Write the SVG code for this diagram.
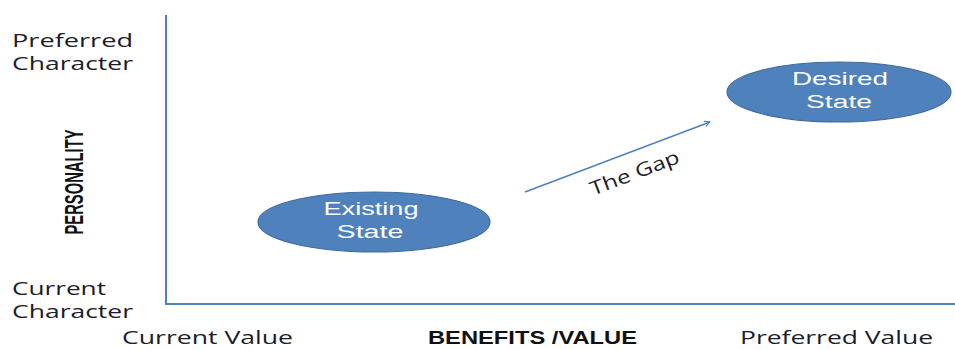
<svg xmlns="http://www.w3.org/2000/svg" width="955" height="350" viewBox="0 0 955 350">
<defs>
<style>
.lbl{font-family:"Open Sans","Liberation Sans",sans-serif;font-size:18px;fill:#1c1c2c}
.bold{font-family:"Liberation Sans",sans-serif;font-weight:bold;font-size:18px;fill:#111}
.node ellipse{fill:#4f81bd;stroke:#3f6b9f;stroke-width:1.2}
.node text{font-family:"Liberation Sans",sans-serif;font-size:19px;fill:#ffffff;text-anchor:middle}
.axis{stroke:#4f81bd;stroke-width:2;fill:none}
.conn{stroke:#4f81bd;stroke-width:1.6;fill:none}
</style>
<marker id="ah" viewBox="0 0 10 10" refX="9" refY="5" markerWidth="7" markerHeight="7" orient="auto" markerUnits="userSpaceOnUse">
<path d="M1,1 L9,5 L1,9" fill="none" stroke="#4f81bd" stroke-width="1.5"/>
</marker>
</defs>
<rect width="955" height="350" fill="#ffffff"/>
<g id="axes">
<polyline class="axis" points="166,15 166,304 955,304"/>
</g>
<g id="axis-labels">
<text class="lbl" x="12" y="47" textLength="121" lengthAdjust="spacingAndGlyphs">Preferred</text>
<text class="lbl" x="12" y="70" textLength="121" lengthAdjust="spacingAndGlyphs">Character</text>
<text class="lbl" x="12" y="295" textLength="94" lengthAdjust="spacingAndGlyphs">Current</text>
<text class="lbl" x="12" y="318" textLength="121" lengthAdjust="spacingAndGlyphs">Character</text>
<text class="bold" style="font-size:26px" transform="translate(83,182) rotate(-90)" x="0" y="0" text-anchor="middle" textLength="105" lengthAdjust="spacingAndGlyphs">PERSONALITY</text>
<text class="lbl" x="122" y="344" textLength="171" lengthAdjust="spacingAndGlyphs">Current Value</text>
<text class="bold" x="428" y="344" textLength="209" lengthAdjust="spacingAndGlyphs">BENEFITS /VALUE</text>
<text class="lbl" x="740" y="344" textLength="193" lengthAdjust="spacingAndGlyphs">Preferred Value</text>
</g>
<g id="connectors">
<line class="conn" x1="525" y1="192" x2="710" y2="122" marker-end="url(#ah)"/>
<text class="lbl" style="font-size:19px" transform="translate(637,179) rotate(-21)" x="0" y="0" text-anchor="middle" textLength="94" lengthAdjust="spacingAndGlyphs">The Gap</text>
</g>
<g id="existing" class="node">
<ellipse cx="374" cy="222" rx="116" ry="30"/>
<text x="371" y="215" textLength="95" lengthAdjust="spacingAndGlyphs">Existing</text>
<text x="370" y="238" textLength="67" lengthAdjust="spacingAndGlyphs">State</text>
</g>
<g id="desired" class="node">
<ellipse cx="839" cy="92" rx="112" ry="30"/>
<text x="840" y="85" textLength="96" lengthAdjust="spacingAndGlyphs">Desired</text>
<text x="839" y="108" textLength="66" lengthAdjust="spacingAndGlyphs">State</text>
</g>
</svg>
